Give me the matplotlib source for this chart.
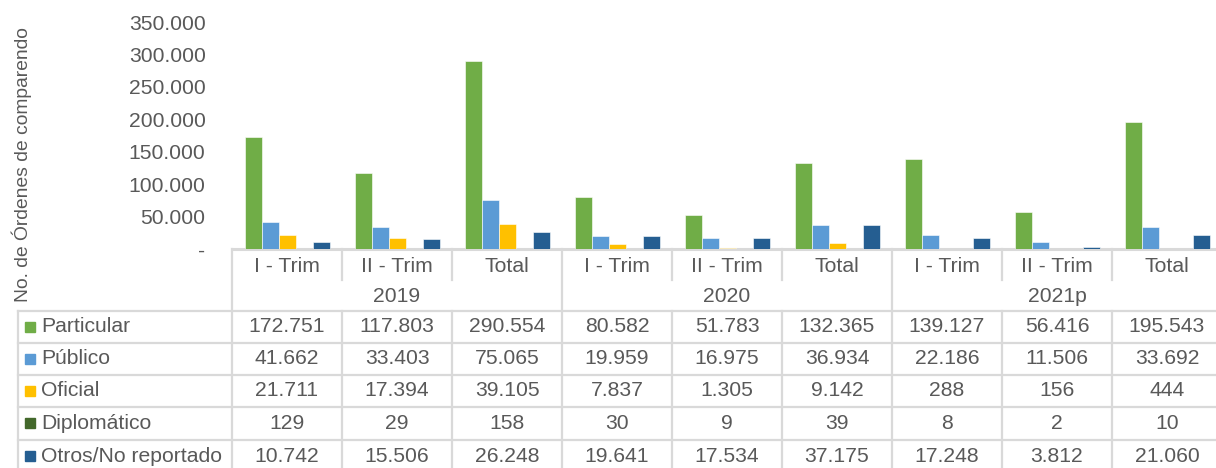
import matplotlib.pyplot as plt
import numpy as np

plt.rcParams["font.family"] = ["Liberation Sans", "DejaVu Sans"]

# ========================
# Data
# ========================

years = ["2019", "2020", "2021p"]
periods = ["I - Trim", "II - Trim", "Total"]

series_names = ["Particular", "Público", "Oficial", "Diplomático", "Otros/No reportado"]
series_colors = ["#70AD47", "#5B9BD5", "#FFC000", "#43682B", "#255E91"]

particular = [172751, 117803, 290554, 80582, 51783, 132365, 139127, 56416, 195543]
publico = [41662, 33403, 75065, 19959, 16975, 36934, 22186, 11506, 33692]
oficial = [21711, 17394, 39105, 7837, 1305, 9142, 288, 156, 444]
diplomatico = [129, 29, 158, 30, 9, 39, 8, 2, 10]
otros = [10742, 15506, 26248, 19641, 17534, 37175, 17248, 3812, 21060]

y_ticks = [0, 50000, 100000, 150000, 200000, 250000, 300000, 350000]

TEXT = "#595959"
GRID = "#D9D9D9"
W, H = 1216, 468
FS = 15.2


def fmt(v):
    if v == 0:
        return "-"
    return f"{v:,}".replace(",", ".")


def main():

    series = [particular, publico, oficial, diplomatico, otros]
    n_cat = len(particular)

    fig = plt.figure(figsize=(W / 100, H / 100), dpi=100)

    # Overlay in pixel coords for the data table
    ov = fig.add_axes([0, 0, 1, 1])
    ov.set_xlim(0, W)
    ov.set_ylim(H, 0)
    ov.axis("off")

    # Bar axes (plot area from x=232 to 1222, y=22 to 249)
    x0, x1 = 232, 1222
    y_top, y_base = 22, 249
    ax = fig.add_axes([x0 / W, (H - y_base) / H, (x1 - x0) / W, (y_base - y_top) / H])
    ax.set_facecolor("none")

    bar_w = 17 / 110
    x = np.arange(n_cat)
    for j, (vals, color) in enumerate(zip(series, series_colors)):
        ax.bar(
            x + (j - 2) * bar_w,
            vals,
            width=bar_w,
            color=color,
            edgecolor="white",
            linewidth=0.4,
        )

    ax.set_xlim(-0.5, n_cat - 0.5)
    ax.set_ylim(0, 350000)
    ax.set_yticks(y_ticks)
    ax.set_yticklabels([fmt(v) for v in y_ticks])
    ax.tick_params(axis="y", length=0, pad=19, labelsize=FS, labelcolor=TEXT)
    ax.set_xticks([])
    for s in ax.spines.values():
        s.set_visible(False)

    # Y axis title
    ov.text(22, 165, "No. de Órdenes de comparendo", rotation=90, ha="center", va="center",
            fontsize=13.9, color=TEXT)

    # ========================
    # Category header + table
    # ========================

    col_w = 110
    lw = 1.6

    # baseline
    ov.plot([x0, W], [y_base, y_base], color=GRID, lw=2.2)

    # vertical lines
    ov.plot([x0, x0], [y_base, H], color=GRID, lw=lw)
    for i in range(1, n_cat + 1):
        xv = x0 + i * col_w
        if i % 3 == 0:
            ov.plot([xv, xv], [y_base, H], color=GRID, lw=lw)
        else:
            ov.plot([xv, xv], [y_base, 280], color=GRID, lw=lw)
            ov.plot([xv, xv], [311, H], color=GRID, lw=lw)

    # table left border
    ov.plot([18, 18], [311, H], color=GRID, lw=lw)

    # horizontal row lines
    row_lines = [311, 343, 375, 407, 440, 472]
    for yl in row_lines:
        ov.plot([18, W], [yl, yl], color=GRID, lw=lw)

    # period labels
    for i in range(n_cat):
        ov.text(x0 + (i + 0.5) * col_w, 266, periods[i % 3], ha="center", va="center",
                fontsize=FS, color=TEXT)

    # year labels
    for k, year in enumerate(years):
        ov.text(x0 + (3 * k + 1.5) * col_w, 297, year, ha="center", va="center",
                fontsize=FS, color=TEXT)

    # table rows
    for r, (name, color, vals) in enumerate(zip(series_names, series_colors, series)):
        yc = (row_lines[r] + row_lines[r + 1]) / 2
        ov.add_patch(plt.Rectangle((25, yc - 5.5), 10, 10, color=color))
        ov.text(41, yc, name, ha="left", va="center", fontsize=FS, color=TEXT)
        for i, v in enumerate(vals):
            ov.text(x0 + (i + 0.5) * col_w, yc, fmt(v), ha="center", va="center",
                    fontsize=FS, color=TEXT)

    fig.savefig("out.png", dpi=100)


if __name__ == "__main__":
    main()
